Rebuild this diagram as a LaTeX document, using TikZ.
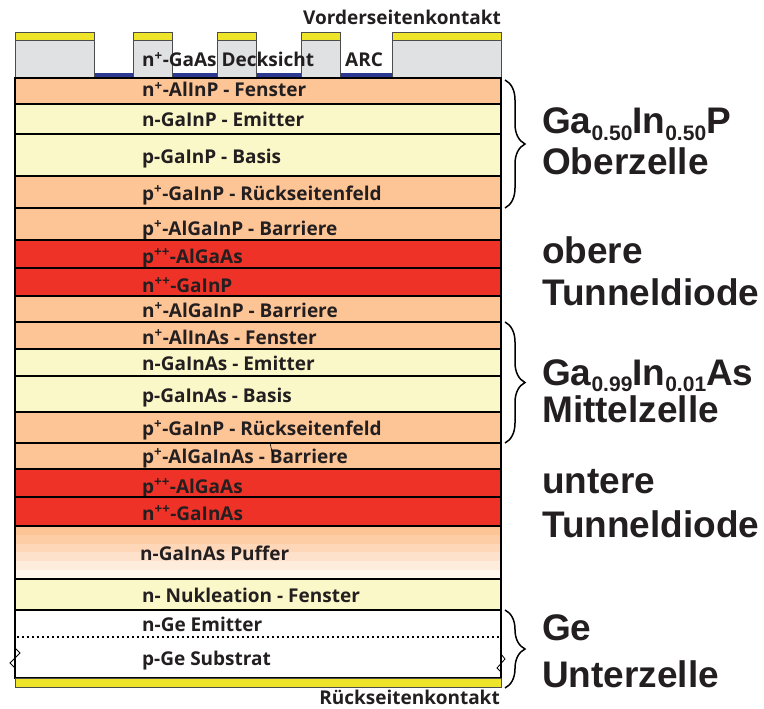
\documentclass[tikz,border=0pt]{standalone}
\usepackage{fontspec}
\usepackage{xcolor}
\usepackage{tikz}
\usetikzlibrary{decorations.pathreplacing}
\setmainfont{Liberation Sans}
\newfontfamily\layerfont{Open Sans}

\definecolor{peach}{RGB}{253,196,150}
\definecolor{lemon}{RGB}{250,247,200}
\definecolor{tdred}{RGB}{238,50,39}
\definecolor{capgray}{RGB}{224,225,227}
\definecolor{contactyellow}{RGB}{238,229,42}
\definecolor{arcblue}{RGB}{43,57,144}
\definecolor{inkgray}{RGB}{35,31,32}

\newcommand{\hoch}[1]{\textsuperscript{#1}}
\newcommand{\tief}[1]{\raisebox{-6pt}[0pt][0pt]{\fontsize{21}{21}\selectfont #1}}

\begin{document}
\begin{tikzpicture}[
    x=1pt, y=-1pt,
    layer/.style={draw=black, line width=1.2pt},
    capbox/.style={draw=black!70, line width=0.8pt, fill=capgray},
    contact/.style={draw=black!70, line width=0.8pt, fill=contactyellow},
    lbl/.style={anchor=base west, inner sep=0pt, text=inkgray, font=\layerfont\bfseries\fontsize{19}{20}\selectfont},
    big/.style={anchor=base west, inner sep=0pt, text=inkgray, font=\bfseries\fontsize{37}{40}\selectfont},
    cbrace/.style={decorate, decoration={brace, amplitude=20pt}, line width=1.5pt, draw=black}
]
    \useasboundingbox (0,0) rectangle (764,709);

    % Front side: ARC, cap layer and contact fingers
    \fill[arcblue] (15,73) rectangle (501,78);
    \foreach \xa/\xb in {15/94, 133/172, 217/256, 301/340, 392/501} {
        \draw[capbox] (\xa,40) rectangle (\xb,78);
        \draw[contact] (\xa,32) rectangle (\xb,40);
    }
    \node[lbl] (deck) at (142,67) {n\hoch{+}-GaAs Decksicht};
    \node[lbl] (arc) at (345,67) {ARC};
    \node[lbl, anchor=base east] (vsk) at (501,25) {Vorderseitenkontakt};

    % Layer stack
    \foreach \ta/\tb/\col/\base/\txt [count=\i] in {
        78/104/peach/97/n\hoch{+}-AlInP - Fenster,
        104/134/lemon/127/n-GaInP - Emitter,
        134/176/lemon/163/p-GaInP - Basis,
        176/208/peach/200/p\hoch{+}-GaInP - Rückseitenfeld,
        208/240/peach/235/p\hoch{+}-AlGaInP - Barriere,
        240/268/tdred/263/p\hoch{++}-AlGaAs,
        268/296/tdred/292/n\hoch{++}-GaInP,
        296/322/peach/317/n\hoch{+}-AlGaInP - Barriere,
        322/349/peach/344/n\hoch{+}-AlInAs - Fenster,
        349/376/lemon/370/n-GaInAs - Emitter,
        376/412/lemon/402/p-GaInAs - Basis,
        412/443/peach/435/p\hoch{+}-GaInP - Rückseitenfeld,
        443/469/peach/463/p\hoch{+}-AlGaInAs - Barriere,
        469/497/tdred/493/p\hoch{++}-AlGaAs,
        497/526/tdred/520/n\hoch{++}-GaInAs,
        579/610/lemon/602/n- Nukleation - Fenster} {
        \draw[layer, fill=\col] (15,\ta) rectangle (501,\tb);
        \node[lbl] (lay\i) at (142,\base) {\txt};
    }
    \draw[line width=0.6pt] (270,443) -- (273,456);

    % Buffer with graded colour
    \foreach \k/\pc in {0/100, 1/85, 2/68, 3/50, 4/33, 5/16} {
        \fill[peach!\pc!white] (15,526+\k*8.83) rectangle (501,526+\k*8.83+8.83);
    }
    \draw[layer] (15,526) rectangle (501,579);
    \node[lbl] (puffer) at (140,560) {n-GaInAs Puffer};

    % Ge bottom cell and back contact
    \draw[layer, fill=white] (15,610) rectangle (501,678);
    \draw[line width=1.5pt, dash pattern=on 1.5pt off 3.5pt] (17,637) -- (499,637);
    \node[lbl] (nge) at (142,631) {n-Ge Emitter};
    \node[lbl] (pge) at (142,665) {p-Ge Substrat};
    \draw[line width=0.8pt] (15,648) -- (20,653) -- (10,663) -- (15,668);
    \draw[line width=0.8pt] (501,654) -- (505,659) -- (497,668) -- (501,672);
    \draw[contact, line width=1pt] (15,678) rectangle (501,687);
    \node[lbl, anchor=base east] (rsk) at (500,704) {Rückseitenkontakt};

    % Braces and cell names
    \coordinate (ob_a) at (505,80);
    \coordinate (ob_b) at (505,208);
    \coordinate (mi_a) at (505,322);
    \coordinate (mi_b) at (505,443);
    \coordinate (un_a) at (505,610);
    \coordinate (un_b) at (505,688);
    \draw[cbrace] (ob_a) -- (ob_b);
    \draw[cbrace] (mi_a) -- (mi_b);
    \draw[cbrace] (un_a) -- (un_b);

    \node[big] (ob1) at (542,134) {Ga\tief{0.50}In\tief{0.50}P};
    \node[big] (ob2) at (542,175) {Oberzelle};
    \node[big] (td1) at (542,263) {obere};
    \node[big] (td2) at (542,305) {Tunneldiode};
    \node[big] (mi1) at (542,385) {Ga\tief{0.99}In\tief{0.01}As};
    \node[big] (mi2) at (542,422) {Mittelzelle};
    \node[big] (tu1) at (542,493) {untere};
    \node[big] (tu2) at (542,537) {Tunneldiode};
    \node[big] (ge1) at (542,640) {Ge};
    \node[big] (ge2) at (542,687) {Unterzelle};
\end{tikzpicture}
\end{document}
